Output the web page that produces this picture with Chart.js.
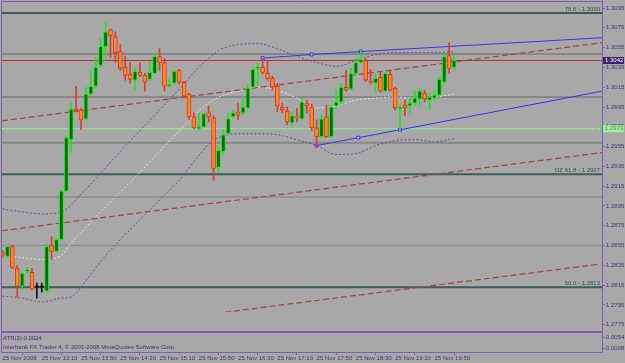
<!DOCTYPE html>
<html>
<head>
<meta charset="utf-8">
<script src="https://cdn.jsdelivr.net/npm/chart.js@4.4.0/dist/chart.umd.min.js"></script>
<style>
  html, body { margin: 0; padding: 0; background: #a8a8a8; }
  #wrap { width: 625px; height: 363px; }
</style>
</head>
<body>
<div id="wrap"><canvas id="grafico" width="625" height="363"></canvas></div>
<script>
// EURUSD M5, 25 Nov 2008 12:30 - 20:00 (una vela cada 5 minutos)
const apertura = [
  1.2848, 1.2844, 1.2854, 1.2832, 1.2814, 1.2829, 1.2828, 1.2813, 1.2813, 1.2809,
  1.2855, 1.2849, 1.2861, 1.2910, 1.2962, 1.2993, 1.2992, 1.2983, 1.3008, 1.3016,
  1.3037, 1.3056, 1.3073, 1.3066, 1.3051, 1.3035, 1.3028, 1.3022, 1.3030, 1.3027,
  1.3023, 1.3029, 1.3046, 1.3040, 1.3016, 1.3019, 1.3032, 1.3020, 1.3008, 1.2985,
  1.2973, 1.2975, 1.2989, 1.2984, 1.2934, 1.2950, 1.2968, 1.2985, 1.2990, 1.2989,
  1.2994, 1.3015, 1.3034, 1.3035, 1.3029, 1.3024, 1.3016, 1.2995, 1.2991, 1.2979,
  1.2985, 1.2983, 1.2999, 1.2995, 1.2974, 1.2965, 1.2985, 1.2965, 1.2996, 1.3000,
  1.3015, 1.3013, 1.3029, 1.3040, 1.3042, 1.3021, 1.3019, 1.3025, 1.3011, 1.3028,
  1.3014, 1.2993, 1.2997, 1.2996, 1.2999, 1.3003, 1.3009, 1.3002, 1.3004, 1.3007,
  1.3020, 1.3047, 1.3035
];
const maximo = [
  1.2850, 1.2855, 1.2855, 1.2835, 1.2828, 1.2833, 1.2832, 1.2817, 1.2817, 1.2857,
  1.2864, 1.2862, 1.2911, 1.2965, 1.2999, 1.3016, 1.2994, 1.3015, 1.3032, 1.3045,
  1.3064, 1.3081, 1.3074, 1.3071, 1.3058, 1.3046, 1.3040, 1.3035, 1.3040, 1.3029,
  1.3041, 1.3049, 1.3054, 1.3044, 1.3024, 1.3032, 1.3033, 1.3021, 1.3009, 1.2989,
  1.2989, 1.2989, 1.2996, 1.2986, 1.2955, 1.2972, 1.2989, 1.2992, 1.2999, 1.3006,
  1.3017, 1.3035, 1.3039, 1.3044, 1.3042, 1.3026, 1.3019, 1.2999, 1.2995, 1.2990,
  1.2994, 1.3005, 1.3002, 1.2998, 1.2982, 1.2987, 1.2997, 1.2997, 1.3012, 1.3019,
  1.3032, 1.3034, 1.3044, 1.3052, 1.3044, 1.3033, 1.3029, 1.3030, 1.3030, 1.3032,
  1.3015, 1.2998, 1.3002, 1.3004, 1.3012, 1.3014, 1.3012, 1.3009, 1.3012, 1.3025,
  1.3049, 1.3060, 1.3047
];
const minimo = [
  1.2843, 1.2843, 1.2832, 1.2803, 1.2811, 1.2827, 1.2810, 1.2802, 1.2808, 1.2808,
  1.2841, 1.2848, 1.2860, 1.2909, 1.2949, 1.2990, 1.2972, 1.2982, 1.3007, 1.3014,
  1.3035, 1.3045, 1.3045, 1.3040, 1.3032, 1.3022, 1.3019, 1.3012, 1.3026, 1.3011,
  1.3022, 1.3028, 1.3032, 1.3011, 1.3016, 1.3018, 1.3018, 1.3004, 1.2982, 1.2973,
  1.2972, 1.2974, 1.2980, 1.2921, 1.2929, 1.2948, 1.2967, 1.2984, 1.2982, 1.2987,
  1.2993, 1.3014, 1.3017, 1.3028, 1.3022, 1.3012, 1.2990, 1.2989, 1.2977, 1.2975,
  1.2980, 1.2982, 1.2989, 1.2971, 1.2955, 1.2964, 1.2964, 1.2964, 1.2993, 1.2998,
  1.3011, 1.3012, 1.3028, 1.3039, 1.3021, 1.3018, 1.3010, 1.3010, 1.3010, 1.3011,
  1.2992, 1.2972, 1.2986, 1.2989, 1.2997, 1.2997, 1.3000, 1.2992, 1.3002, 1.3005,
  1.3018, 1.3029, 1.3033
];
const cierre = [
  1.2845, 1.2854, 1.2833, 1.2814, 1.2827, 1.2831, 1.2811, 1.2813, 1.2813, 1.2854,
  1.2849, 1.2861, 1.2910, 1.2964, 1.2993, 1.2991, 1.2982, 1.3008, 1.3016, 1.3035,
  1.3056, 1.3071, 1.3067, 1.3050, 1.3034, 1.3027, 1.3023, 1.3031, 1.3027, 1.3020,
  1.3030, 1.3046, 1.3040, 1.3016, 1.3018, 1.3031, 1.3020, 1.3006, 1.2985, 1.2974,
  1.2975, 1.2988, 1.2985, 1.2933, 1.2951, 1.2967, 1.2983, 1.2989, 1.2987, 1.2995,
  1.3014, 1.3033, 1.3035, 1.3030, 1.3024, 1.3015, 1.2996, 1.2992, 1.2980, 1.2986,
  1.2984, 1.3000, 1.2996, 1.2974, 1.2965, 1.2983, 1.2965, 1.2995, 1.3000, 1.3015,
  1.3012, 1.3029, 1.3040, 1.3043, 1.3022, 1.3020, 1.3024, 1.3011, 1.3029, 1.3012,
  1.2994, 1.2995, 1.2994, 1.2999, 1.3004, 1.3011, 1.3003, 1.3005, 1.3007, 1.3023,
  1.3046, 1.3034, 1.3042
];

const indiceBandas = [0, 4, 8, 12, 14, 16, 18, 20, 24, 28, 32, 36, 40, 42, 44, 48, 52, 56, 60, 64, 68, 72, 76, 80, 84, 88, 92];
const bandaSuperior = [1.2892, 1.2889, 1.2887, 1.2889, 1.2896, 1.2907, 1.2917, 1.2928, 1.2950, 1.2971, 1.2992, 1.3013, 1.3035, 1.3044, 1.3052, 1.3058, 1.3059, 1.3054, 1.3046, 1.3040, 1.3036, 1.3042, 1.3048, 1.3050, 1.3050, 1.3050, 1.3051];
const bandaMedia = [1.2845, 1.2843, 1.2841, 1.2845, 1.2858, 1.2868, 1.2879, 1.2889, 1.2909, 1.2929, 1.2950, 1.2971, 1.2991, 1.2999, 1.3005, 1.3011, 1.3015, 1.3012, 1.3004, 1.2994, 1.2996, 1.3002, 1.3004, 1.3005, 1.3004, 1.3005, 1.3008];
const bandaInferior = [1.2804, 1.2802, 1.2798, 1.2802, 1.2803, 1.2813, 1.2826, 1.2839, 1.2861, 1.2881, 1.2901, 1.2921, 1.2946, 1.2957, 1.2964, 1.2968, 1.2968, 1.2967, 1.2962, 1.2956, 1.2947, 1.2948, 1.2956, 1.2961, 1.2962, 1.2960, 1.2963];

// lineas de tendencia [vela, precio]
const tendencia1 = [[-0.1, 1.2981], [122.15, 1.3060]];
const tendencia2 = [[-0.1, 1.2870], [122.15, 1.2949]];
const tendencia3 = [[14.4, 1.2768], [121.3, 1.2836]];
const canalArriba = [[53, 1.30445], [63, 1.3048], [73, 1.3051], [122.15, 1.3065]];
const canalAbajo = [[64, 1.2956], [72.5, 1.2964], [81, 1.2972], [122.15, 1.3011]];

// niveles horizontales
const nivelBid = 1.3042;
const nivelVerde = 1.2973;
const nivelesFibo = [1.3090, 1.2927, 1.2813];
const textosFibo = ["78.6 - 1.3090", "DZ 61.8 - 1.2927", "50.0 - 1.2813"];
const nivelesGrises = [1.30486, 1.3005, 1.2959, 1.2904, 1.2855];

// ejes
const marcasPrecio = [1.2775, 1.2795, 1.2815, 1.2835, 1.2855, 1.2875, 1.2895, 1.2915, 1.2935, 1.2955, 1.2975, 1.2995, 1.3015, 1.3035, 1.3055, 1.3075, 1.3095];
const marcasAtr = [0.0054, 0.0008];
const indiceHoras = [0, 8, 16, 24, 32, 40, 48, 56, 64, 72, 80, 88];
const etiquetasHora = ["25 Nov 2008", "25 Nov 13:10", "25 Nov 13:50", "25 Nov 14:30", "25 Nov 15:10", "25 Nov 15:50", "25 Nov 16:30", "25 Nov 17:10", "25 Nov 17:50", "25 Nov 18:30", "25 Nov 19:10", "25 Nov 19:50"];

const MORADO = "#7e5cae";
const TEXTO = "#47307a";
const FUENTE = { family: "'Liberation Sans', Arial, sans-serif", size: 6 };
const RECORTE = { left: 0, top: 0, right: 0, bottom: -20 };

const X_MIN = -0.1, X_MAX = 122.15;

function tipo(i) {
  if (apertura[i] === cierre[i]) return "doji";
  return cierre[i] > apertura[i] ? "alza" : "baja";
}
const rellenos = { alza: "#006e00", baja: "#ff8a1e", doji: "#000000" };
const bordes = { alza: "#1ee61e", baja: "#e4321e", doji: "#000000" };
const mechas = { alza: "#22e022", baja: "#e03a30", doji: "#101010" };

function linea(puntos, color, extra) {
  return Object.assign({
    type: "line",
    data: puntos.map(p => ({ x: p[0], y: p[1] })),
    borderColor: color,
    borderWidth: 1,
    pointRadius: 0,
    pointHoverRadius: 0,
    yAxisID: "y",
    clip: RECORTE,
    order: 5
  }, extra || {});
}

function horizontal(precio, color, ancho, orden) {
  return linea([[X_MIN, precio], [X_MAX, precio]], color, { borderWidth: ancho, order: orden });
}

function banda(valores, color) {
  return linea(indiceBandas.map((v, i) => [v, valores[i]]), color, {
    borderDash: [2, 2], cubicInterpolationMode: "monotone", order: 4
  });
}

// sin relleno extra por las etiquetas de los extremos
function ajustar(ancho, alto) {
  return s => {
    if (ancho) s.width = ancho;
    if (alto) s.height = alto;
    s.paddingTop = 0; s.paddingBottom = 0; s.paddingLeft = 0; s.paddingRight = 0;
  };
}

const datasets = [
  // cuerpos
  {
    type: "bar",
    data: apertura.map((o, i) => ({ x: i, y: [o, cierre[i]] })),
    backgroundColor: apertura.map((o, i) => rellenos[tipo(i)]),
    borderColor: apertura.map((o, i) => bordes[tipo(i)]),
    borderWidth: 1,
    borderSkipped: false,
    barThickness: 4,
    minBarLength: 1,
    grouped: false,
    yAxisID: "y",
    clip: RECORTE,
    order: 0
  },
  // mechas
  {
    type: "bar",
    data: minimo.map((l, i) => ({ x: i, y: [l, maximo[i]] })),
    backgroundColor: minimo.map((l, i) => mechas[tipo(i)]),
    borderWidth: 0,
    barThickness: 1,
    grouped: false,
    yAxisID: "y",
    clip: RECORTE,
    order: 1
  },
  banda(bandaSuperior, "#6a4a9e"),
  banda(bandaInferior, "#6a4a9e"),
  banda(bandaMedia, "#e6e6e6"),
  linea(tendencia1, "#a4443e", { borderDash: [6, 3], borderWidth: 1.2, order: 3 }),
  linea(tendencia2, "#a4443e", { borderDash: [6, 3], borderWidth: 1.2, order: 3 }),
  linea(tendencia3, "#a4443e", { borderDash: [6, 3], borderWidth: 1.2, order: 3 }),
  linea(canalArriba, "#3434ee", {
    order: 2, pointRadius: [2, 2, 2, 0], pointStyle: "rect",
    pointBackgroundColor: "#c8c8f0", pointBorderColor: "#3434ee", pointBorderWidth: 1
  }),
  linea(canalAbajo, "#3434ee", {
    order: 2, pointRadius: [2, 2, 2, 0], pointStyle: "rect",
    pointBackgroundColor: "#c8c8f0", pointBorderColor: "#3434ee", pointBorderWidth: 1
  }),
  horizontal(nivelBid, "#b83434", 1, 6),
  linea([[0.1, nivelVerde], [121.5, nivelVerde]], "#8ef08e", {
    order: 6, pointRadius: 1.8, pointStyle: "rect",
    pointBackgroundColor: "#b8f8b8", pointBorderColor: "#60d060", pointBorderWidth: 1
  })
];
nivelesFibo.forEach(p => datasets.push(horizontal(p, "#3e5c5c", 2, 7)));
nivelesGrises.forEach((p, i) => datasets.push(horizontal(p, i < 3 ? "#878787" : "#8e8e8e", i < 3 ? 2 : 1.5, 8)));

const fondo = {
  id: "fondo",
  beforeDraw(chart) {
    const ctx = chart.ctx;
    ctx.save();
    ctx.fillStyle = "#a8a8a8";
    ctx.fillRect(0, 0, chart.width, chart.height);
    ctx.restore();
  }
};

const marco = {
  id: "marco",
  afterDraw(chart) {
    const ctx = chart.ctx;
    const a = chart.chartArea;
    const y = chart.scales.y;
    const y2 = chart.scales.y2;
    ctx.save();
    ctx.strokeStyle = MORADO;
    ctx.lineWidth = 1;
    ctx.beginPath();
    ctx.moveTo(a.left - 0.5, 0.5); ctx.lineTo(a.left - 0.5, a.bottom);
    ctx.moveTo(a.left - 0.5, y.top + 0.5); ctx.lineTo(a.right, y.top + 0.5);
    ctx.moveTo(a.right + 0.5, 0); ctx.lineTo(a.right + 0.5, a.bottom + 0.5);
    ctx.moveTo(a.left - 0.5, a.bottom + 0.5); ctx.lineTo(a.right + 0.5, a.bottom + 0.5);
    ctx.stroke();
    ctx.lineWidth = 2;
    ctx.beginPath();
    ctx.moveTo(a.left - 0.5, y.bottom); ctx.lineTo(a.right + 0.5, y.bottom);
    ctx.stroke();

    ctx.font = "6px 'Liberation Sans', Arial, sans-serif";
    // textos fibo
    ctx.fillStyle = "#34504f";
    ctx.textAlign = "right";
    ctx.textBaseline = "bottom";
    nivelesFibo.forEach((p, i) => {
      ctx.fillText(textosFibo[i], a.right - 2, y.getPixelForValue(p) - 1);
    });

    // etiquetas de precio en el eje
    ctx.textAlign = "left";
    ctx.textBaseline = "middle";
    let py = y.getPixelForValue(nivelBid);
    ctx.fillStyle = "#3d1f70";
    ctx.fillRect(a.right + 1, py - 3.5, 21, 7);
    ctx.fillStyle = "#ffffff";
    ctx.fillText(nivelBid.toFixed(4), a.right + 3, py);
    py = y.getPixelForValue(nivelVerde);
    ctx.fillStyle = "#9cf09c";
    ctx.fillRect(a.right + 1, py - 3.5, 21, 7);
    ctx.fillStyle = "#5a9a5a";
    ctx.fillText(nivelVerde.toFixed(4), a.right + 3, py);

    // ventana ATR
    ctx.fillStyle = TEXTO;
    ctx.fillText("ATR(3) 0.0024", a.left + 1, y2.top + 6);
    ctx.fillText("Interbank FX Trader 4, \u00a9 2001-2008 MetaQuotes Software Corp.", a.left + 1, y2.top + 15);
    ctx.restore();
  }
};

new Chart(document.getElementById("grafico"), {
  type: "bar",
  data: { datasets },
  options: {
    responsive: false,
    animation: false,
    events: [],
    layout: { autoPadding: false, padding: { left: 2, top: 1, right: 0, bottom: 0 } },
    plugins: { legend: { display: false }, tooltip: { enabled: false } },
    scales: {
      x: {
        type: "linear",
        min: X_MIN,
        max: X_MAX,
        offset: false,
        afterBuildTicks: s => { s.ticks = indiceHoras.map(v => ({ value: v })); },
        afterFit: ajustar(0, 11),
        ticks: {
          align: "start", maxRotation: 0, autoSkip: false, padding: 0,
          color: TEXTO, font: FUENTE,
          callback: (v, i) => etiquetasHora[i]
        },
        grid: { drawOnChartArea: false, tickLength: 3, color: MORADO },
        border: { display: false }
      },
      y: {
        type: "linear",
        position: "right",
        stack: "ventanas",
        stackWeight: 331,
        min: 1.27677,
        max: 1.31021,
        afterBuildTicks: s => { s.ticks = marcasPrecio.map(v => ({ value: v })); },
        afterFit: ajustar(23, 0),
        ticks: { padding: 1, color: TEXTO, font: FUENTE, callback: v => v.toFixed(4) },
        grid: { drawOnChartArea: false, tickLength: 3, color: MORADO },
        border: { display: false }
      },
      y2: {
        type: "linear",
        position: "right",
        stack: "ventanas",
        stackWeight: 20,
        min: -0.0005,
        max: 0.0075,
        afterBuildTicks: s => { s.ticks = marcasAtr.map(v => ({ value: v })); },
        afterFit: ajustar(23, 0),
        ticks: { padding: 1, color: TEXTO, font: FUENTE, callback: v => v.toFixed(4) },
        grid: { drawOnChartArea: false, tickLength: 3, color: MORADO },
        border: { display: false }
      }
    }
  },
  plugins: [fondo, marco]
});
</script>
</body>
</html>
